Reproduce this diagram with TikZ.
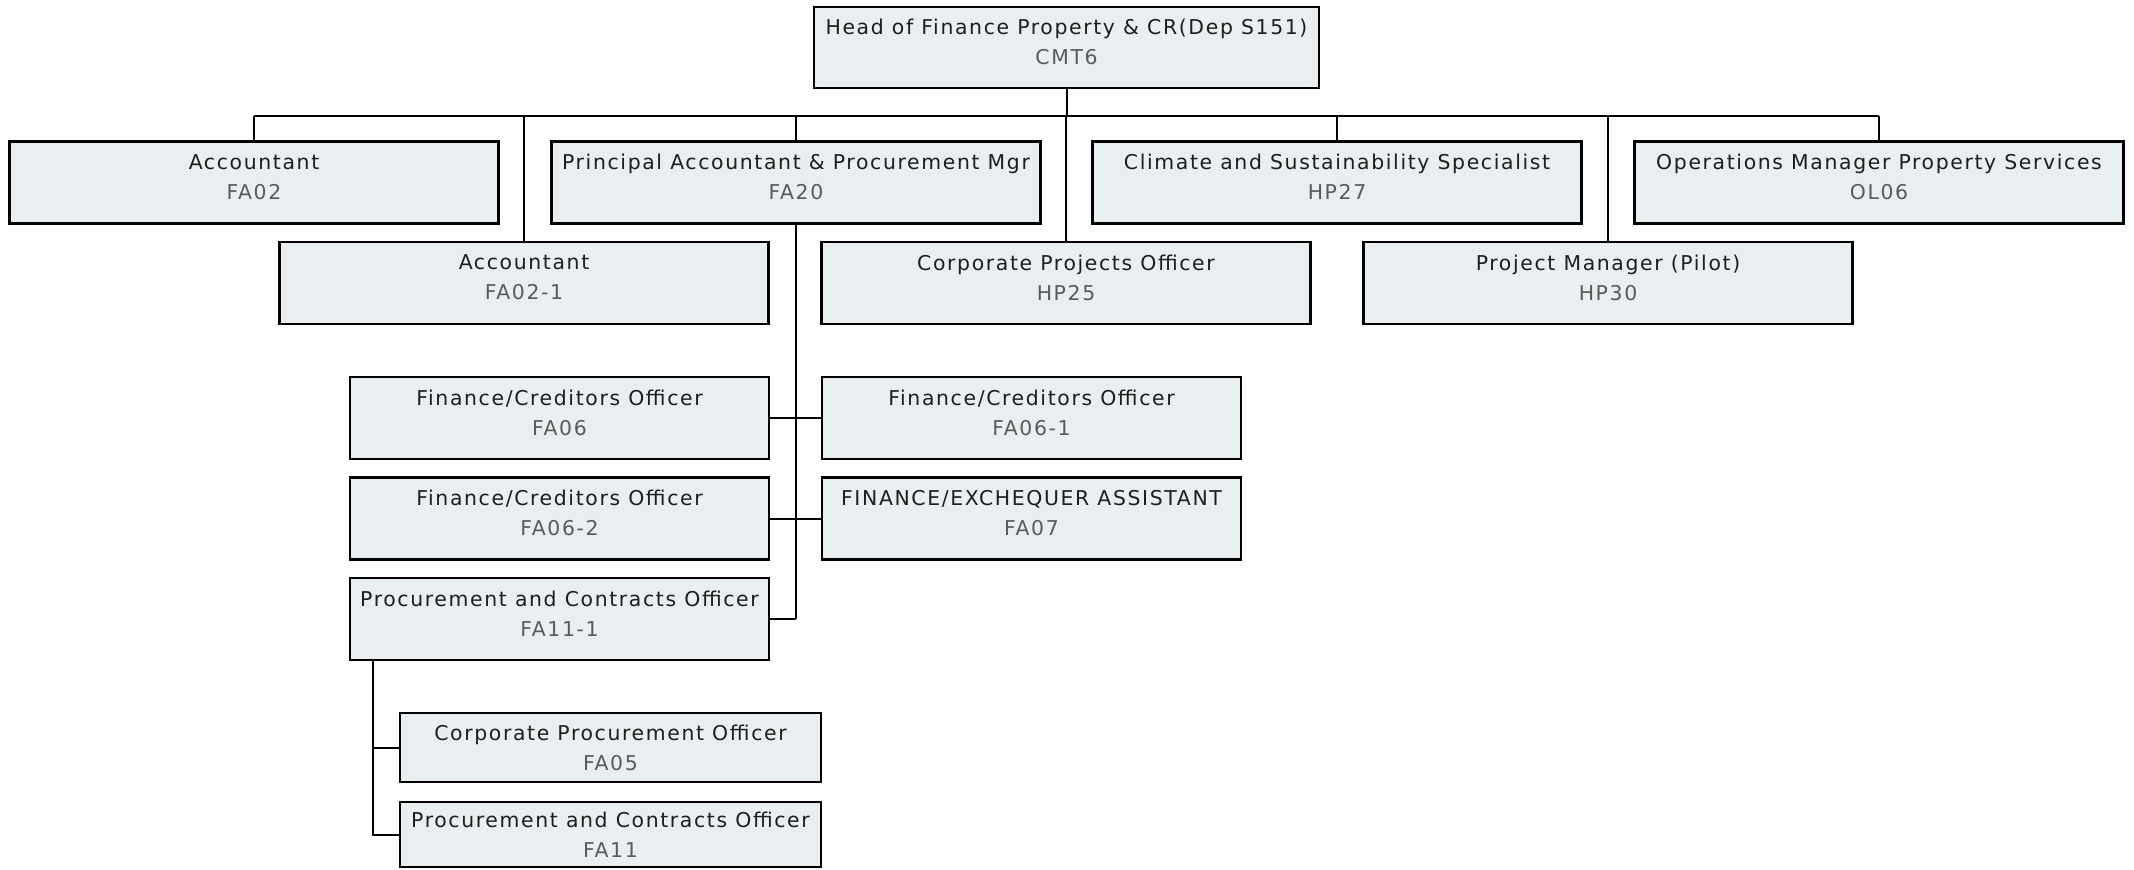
\documentclass[tikz,border=0pt]{standalone}
\usepackage{fontspec}
\setmainfont{DejaVu Sans}[LetterSpace=8]
\definecolor{boxfill}{HTML}{E9EEF0}
\definecolor{titlecol}{HTML}{1E1E1E}
\definecolor{codecol}{HTML}{5A5A5A}
\tikzset{
  post/.style={draw=black, line width=1.1pt, fill=boxfill, rectangle,
    minimum width=#1, inner sep=0pt, align=center,
    font=\fontsize{10.2}{15}\selectfont, text=titlecol},
  post/.default=244.5pt,
  link/.style={draw=black, line width=1pt},
}
\newcommand{\posttext}[2]{#1\\\textcolor{codecol}{#2}\rule[-5.5pt]{0pt}{0pt}}
\newcommand{\posttextc}[2]{#1\\\textcolor{codecol}{#2}}
\begin{document}
\begin{tikzpicture}[x=0.5pt,y=-0.5pt]
\useasboundingbox (0,0) rectangle (2134,869);
% top
\node[post=252.5pt, minimum height=40.5pt] (cmt6) at (1066.5,47.5) {\posttext{Head of Finance Property \& CR(Dep S151)}{CMT6}};
% row 1
\node[post, minimum height=41pt] (fa02) at (254,182.5) {\posttext{Accountant}{FA02}};
\node[post, minimum height=41pt] (fa20) at (796,182.5) {\posttext{Principal Accountant \& Procurement Mgr}{FA20}};
\node[post, minimum height=41pt] (hp27) at (1337,182.5) {\posttext{Climate and Sustainability Specialist}{HP27}};
\node[post, minimum height=41pt] (ol06) at (1879,182.5) {\posttext{Operations Manager Property Services}{OL06}};
% row 2
\node[post, minimum height=41pt] (fa021) at (524,283) {\posttext{Accountant}{FA02-1}};
\node[post, minimum height=41pt] (hp25) at (1066,283) {\posttext{Corporate Projects Officer}{HP25}};
\node[post, minimum height=41pt] (hp30) at (1608,283) {\posttext{Project Manager (Pilot)}{HP30}};
% FA20 team
\node[post=209.5pt, minimum height=41pt] (fa06) at (559.5,418) {\posttext{Finance/Creditors Officer}{FA06}};
\node[post=209.5pt, minimum height=41pt] (fa061) at (1031.5,418) {\posttext{Finance/Creditors Officer}{FA06-1}};
\node[post=209.5pt, minimum height=41pt] (fa062) at (559.5,518.5) {\posttext{Finance/Creditors Officer}{FA06-2}};
\node[post=209.5pt, minimum height=41pt] (fa07) at (1031.5,518.5) {\posttext{FINANCE/EXCHEQUER ASSISTANT}{FA07}};
\node[post=209.5pt, minimum height=41pt] (fa111) at (559.5,619) {\posttext{Procurement and Contracts Officer}{FA11-1}};
% FA11-1 team
\node[post=210.5pt, minimum height=34.5pt] (fa05) at (610.5,747.5) {\posttextc{Corporate Procurement Officer}{FA05}};
\node[post=210.5pt, minimum height=32.5pt] (fa11) at (610.5,834.5) {\posttextc{Procurement and Contracts Officer}{FA11}};
% connectors
\coordinate (bus) at (0,116);
\draw[link] (cmt6.south) -- (cmt6.south |- bus);
\draw[link] (fa02.north |- bus) -- (ol06.north |- bus);
\foreach \n in {fa02,fa20,hp27,ol06,fa021,hp25,hp30}
  \draw[link] (\n.north) -- (\n.north |- bus);
\draw[link] (fa20.south) -- (fa20.south |- fa111.east);
\draw[link] (fa06.east) -- (fa061.west);
\draw[link] (fa062.east) -- (fa07.west);
\draw[link] (fa111.east) -- (fa20.south |- fa111.east);
\coordinate (stem) at ([xshift=12pt]fa111.south west);
\draw[link] (stem) |- (fa11.west);
\draw[link] (stem |- fa05.west) -- (fa05.west);
\end{tikzpicture}
\end{document}
